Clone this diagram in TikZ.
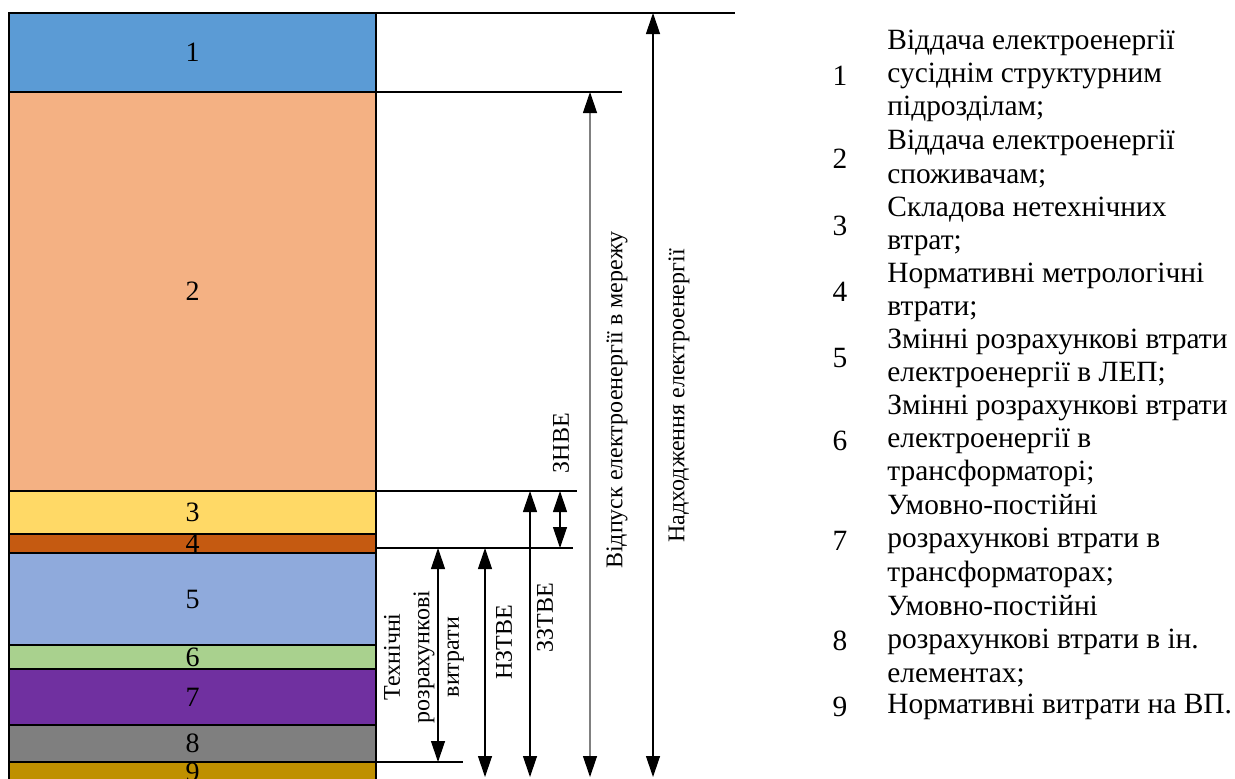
\documentclass[tikz,border=0pt]{standalone}
\usepackage{fontspec}
\setmainfont{Liberation Serif}
\usetikzlibrary{arrows.meta}
\definecolor{lay1}{HTML}{5B9BD5}
\definecolor{lay2}{HTML}{F4B183}
\definecolor{lay3}{HTML}{FFD966}
\definecolor{lay4}{HTML}{C55A11}
\definecolor{lay5}{HTML}{8FAADC}
\definecolor{lay6}{HTML}{A9D18E}
\definecolor{lay7}{HTML}{7030A0}
\definecolor{lay8}{HTML}{7F7F7F}
\definecolor{lay9}{HTML}{BF9000}
\definecolor{vidline}{HTML}{808080}

\begin{document}
\begin{tikzpicture}[x=0.5pt,y=-0.5pt,
  every node/.style={font=\fontsize{14}{16.6}\selectfont},
  layer/.style={draw=black,line width=0.65pt},
  tick/.style={black,line width=0.6pt},
  dim/.style={black,line width=0.6pt,
    {Triangle[length=10.5pt,width=7pt]}-{Triangle[length=10.5pt,width=7pt]}},
  dimgray/.style={vidline,line width=0.6pt,
    {Triangle[length=10.5pt,width=7pt,color=black]}-{Triangle[length=10.5pt,width=7pt,color=black]}},
  vlabel/.style={rotate=90,align=center,inner sep=0pt,
    font=\fontsize{12}{14.75}\selectfont},
  item/.style={anchor=west,align=left,inner sep=0pt,
    font=\fontsize{14.7}{16.6}\selectfont},
  key/.style={font=\fontsize{14.7}{16.6}\selectfont}]
\clip (0,0) rectangle (1235,778);
\fill [white] (0,0) rectangle (1235,778);
\draw [layer,fill=lay1] (9,13) rectangle node (n1) {1} (376,92);
\draw [layer,fill=lay2] (9,92) rectangle node (n2) {2} (376,491);
\draw [layer,fill=lay3] (9,491) rectangle node (n3) {3} (376,534);
\draw [layer,fill=lay4] (9,534) rectangle node (n4) {4} (376,553);
\draw [layer,fill=lay5] (9,553) rectangle node (n5) {5} (376,645);
\draw [layer,fill=lay6] (9,645) rectangle node (n6) {6} (376,669);
\draw [layer,fill=lay7] (9,669) rectangle node (n7) {7} (376,725);
\draw [layer,fill=lay8] (9,725) rectangle node (n8) {8} (376,762);
\draw [layer,fill=lay9] (9,762) rectangle node (n9) {9} (376,782);
\coordinate (lv1) at (376,13);
\coordinate (lv2) at (376,92);
\coordinate (lv3) at (376,491);
\coordinate (lv4) at (376,548);
\coordinate (lv5) at (376,762);
\coordinate (lvb) at (376,777);
\draw [tick] (lv1) -- +(359,0);
\draw [tick] (lv2) -- +(246,0);
\draw [tick] (lv3) -- +(201,0);
\draw [tick] (lv4) -- +(197,0);
\draw [tick] (lv5) -- +(87,0);
\coordinate (xtr) at (438,0);
\coordinate (xnz) at (485,0);
\coordinate (xzz) at (530,0);
\coordinate (xznv) at (560,0);
\coordinate (xvid) at (590,0);
\coordinate (xnad) at (653,0);
\draw [dim] (xtr |- lv4) -- (xtr |- lv5);
\draw [dim] (xnz |- lv4) -- (xnz |- lvb);
\draw [dim] (xzz |- lv3) -- (xzz |- lvb);
\draw [dim] (xznv |- lv3) -- (xznv |- lv4);
\draw [dimgray] (xvid |- lv2) -- (xvid |- lvb);
\draw [dim] (xnad |- lv1) -- (xnad |- lvb);
\node [vlabel] (ltr) at (424,657) {Технічні\\розрахункові\\витрати};
\node [vlabel] (lnz) at (504,642) {НЗТВЕ};
\node [vlabel] (lzz) at (545,618) {ЗЗТВЕ};
\node [vlabel] (lznv) at (561,443) {ЗНВЕ};
\node [vlabel] (lvid) at (617,400) {Відпуск електроенергії в мережу};
\node [vlabel] (lnad) at (679,396) {Надходження електроенергії};
\node [key] (k1) at (840,76) {1};
\node [item] (t1) at (887,76) {Віддача електроенергії\\сусіднім структурним\\підрозділам;};
\node [key] (k2) at (840,159) {2};
\node [item] (t2) at (887,159) {Віддача електроенергії\\споживачам;};
\node [key] (k3) at (840,226) {3};
\node [item] (t3) at (887,226) {Складова нетехнічних\\втрат;};
\node [key] (k4) at (840,292) {4};
\node [item] (t4) at (887,292) {Нормативні метрологічні\\втрати;};
\node [key] (k5) at (840,358) {5};
\node [item] (t5) at (887,358) {Змінні розрахункові втрати\\електроенергії в ЛЕП;};
\node [key] (k6) at (840,441) {6};
\node [item] (t6) at (887,441) {Змінні розрахункові втрати\\електроенергії в\\трансформаторі;};
\node [key] (k7) at (840,541) {7};
\node [item] (t7) at (887,541) {Умовно-постійні\\розрахункові втрати в\\трансформаторах;};
\node [key] (k8) at (840,641) {8};
\node [item] (t8) at (887,641) {Умовно-постійні\\розрахункові втрати в ін.\\елементах;};
\node [key] (k9) at (840,707) {9};
\node [item] (t9) at (887,707) {Нормативні витрати на ВП.};
\end{tikzpicture}
\end{document}
